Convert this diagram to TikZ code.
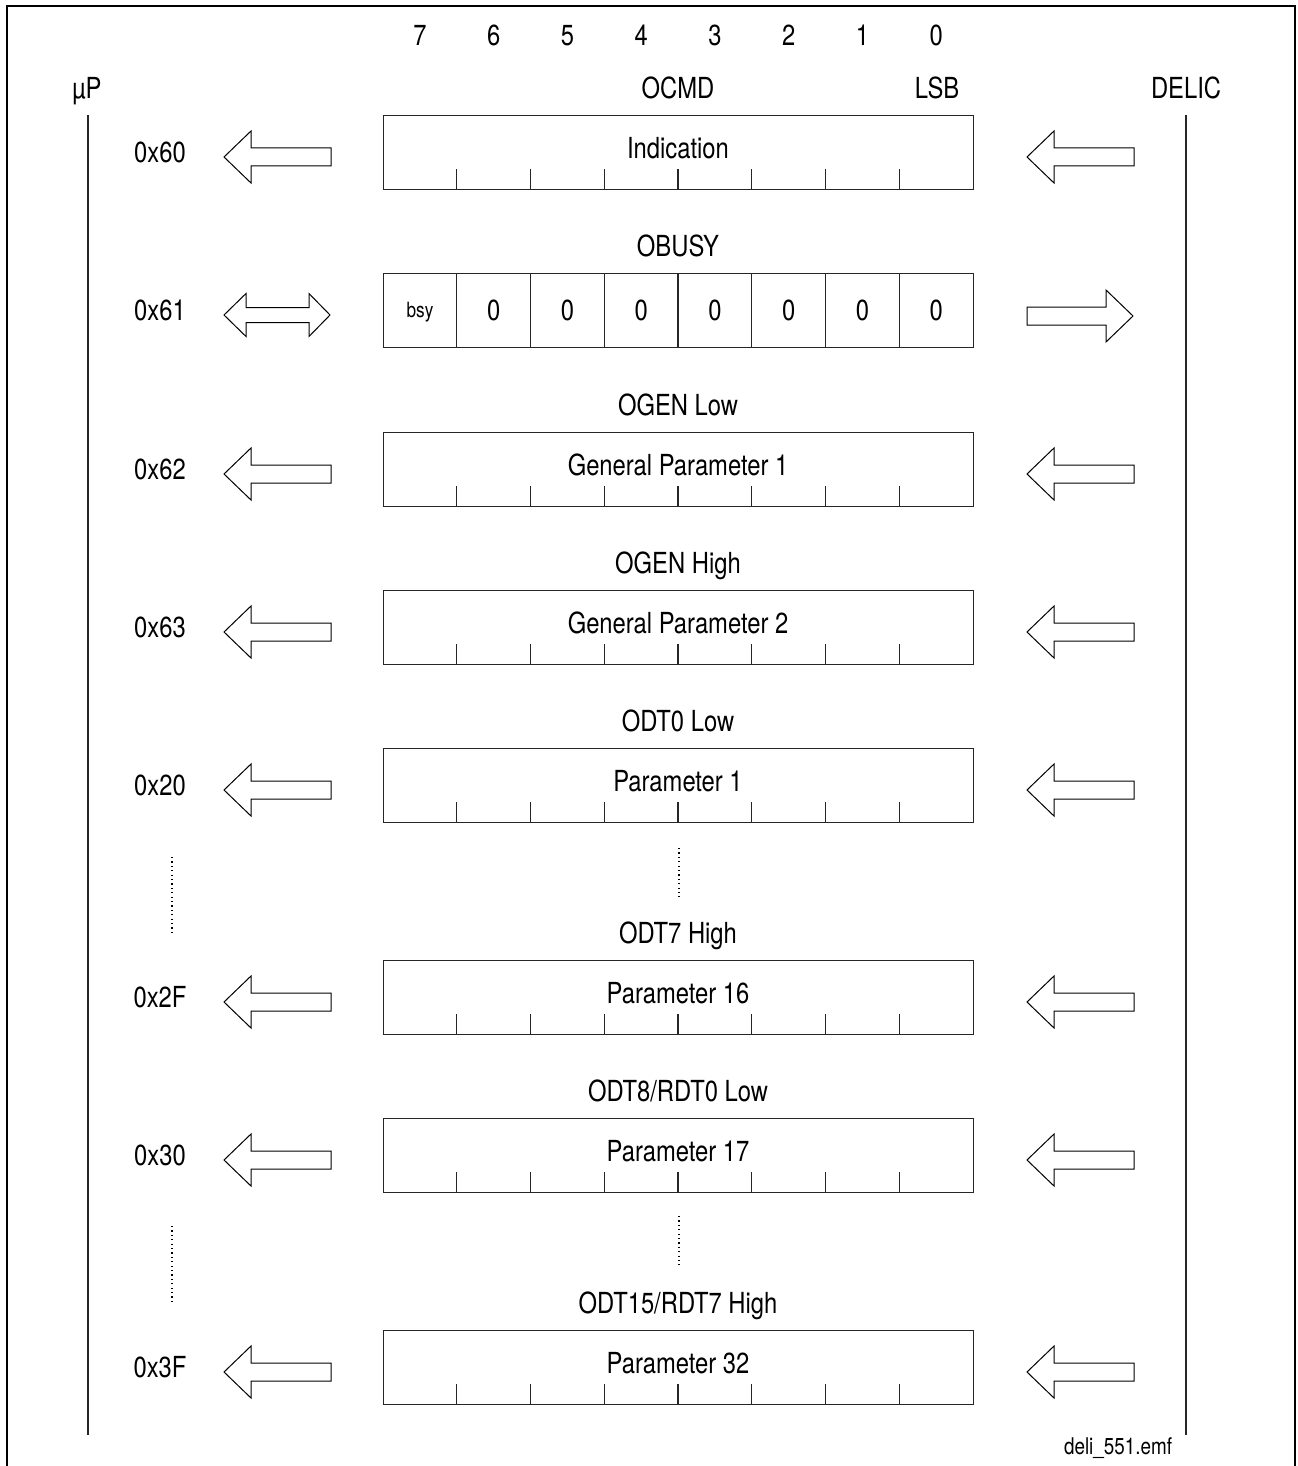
\documentclass[tikz,border=0pt]{standalone}
\usepackage{fontspec}
\setmainfont[FakeStretch=0.82]{TeX Gyre Heros}
\begin{document}
\begin{tikzpicture}[x=0.5pt,y=-0.5pt,
  frameline/.style={line width=1.3pt},
  reg/.style={draw=black!85, line width=0.7pt, minimum width=295pt, minimum height=37pt, inner sep=0pt, anchor=north west},
  lbl/.style={font=\fontsize{14.5}{17}\selectfont, text height=10.5pt, text depth=0pt, inner sep=0pt},
  small/.style={font=\fontsize{10.5}{12}\selectfont, text height=7.5pt, text depth=0pt, inner sep=0pt},
  tick/.style={draw=black!85, line width=0.6pt},
  arr/.style={draw, line width=0.5pt, fill=white, line join=miter},
  bus/.style={draw=black!85, line width=0.6pt},
  dots/.style={line width=0.6pt, dash pattern=on 0.6pt off 1.6pt},
  larrow/.pic={\draw[arr] (0,0) -- (27,-26) -- (27,-9) -- (107,-9) -- (107,9) -- (27,9) -- (27,26) -- cycle;},
  rarrow/.pic={\draw[arr] (0,0) -- (-27,-26) -- (-27,-9) -- (-106,-9) -- (-106,9) -- (-27,9) -- (-27,26) -- cycle;},
  darrow/.pic={\draw[arr] (0,0) -- (22,-21.5) -- (22,-7.5) -- (85,-7.5) -- (85,-21.5) -- (106,0) -- (85,21.5) -- (85,7.5) -- (22,7.5) -- (22,21.5) -- cycle;}
]
\useasboundingbox (0,0) rectangle (1297,1466);
% frame
\draw[frameline] (7,1466) -- (7,6) -- (1295,6) -- (1295,1466);
% bus lines
\coordinate (upTop) at (88,115);
\coordinate (upBot) at (88,1435);
\coordinate (dcTop) at (1186,115);
\coordinate (dcBot) at (1186,1435);
\draw[bus] (upTop) -- (upBot);
\draw[bus] (dcTop) -- (dcBot);
\node[lbl] (up) at (87,88) {µP};
\node[lbl] (delic) at (1186,88) {DELIC};
\node[lbl] (lsb) at (937,88) {LSB};
% bit numbers
\foreach \k in {0,...,7}{
  \pgfmathtruncatemacro{\b}{7-\k}
  \node[lbl] (bit\b) at ({383+73.75*(\k+0.5)},35) {\b};
}
% registers (except OBUSY)
\foreach \t/\a/\n/\p [count=\i] in {115/0x60/OCMD/Indication, 432/0x62/OGEN Low/General Parameter 1, 590/0x63/OGEN High/General Parameter 2, 748/0x20/ODT0 Low/Parameter 1, 960/0x2F/ODT7 High/Parameter 16, 1118/0x30/{ODT8/RDT0 Low}/Parameter 17, 1330/0x3F/{ODT15/RDT7 High}/Parameter 32}{
  \node[reg] (reg\i) at (383,\t) {};
  \node[lbl] (name\i) at (678,\t-27) {\n};
  \node[lbl] (txt\i) at (678,\t+33) {\p};
  \node[lbl] (adr\i) at (160,\t+37) {\a};
  \foreach \k in {1,...,7}{
    \draw[tick] ({383+73.75*\k},\t+74) -- ++(0,-20);
  }
  \pic at (224,\t+42) {larrow};
  \pic at (1027,\t+42) {larrow};
}
% OBUSY
\node[reg] (obusy) at (383,273) {};
\node[lbl] (obusyname) at (678,246) {OBUSY};
\node[lbl] (obusyadr) at (160,310) {0x61};
\foreach \k in {1,...,7}{
  \draw[tick] ({383+73.75*\k},273) -- ({383+73.75*\k},347);
  \node[lbl] (zero\k) at ({383+73.75*(\k+0.5)},310) {0};
}
\node[small] (bsy) at (420,310) {bsy};
\pic at (224,315) {darrow};
\pic at (1133,316) {rarrow};
% dotted continuation marks
\draw[dots] (679,848) -- (679,897);
\draw[dots] (172,857) -- (172,934);
\draw[dots] (679,1216) -- (679,1265);
\draw[dots] (172,1226) -- (172,1304);
% file name
\node[font=\fontsize{11.5}{13}\selectfont, inner sep=0pt] (fname) at (1118,1448) {deli\_551.emf};
\end{tikzpicture}
\end{document}
